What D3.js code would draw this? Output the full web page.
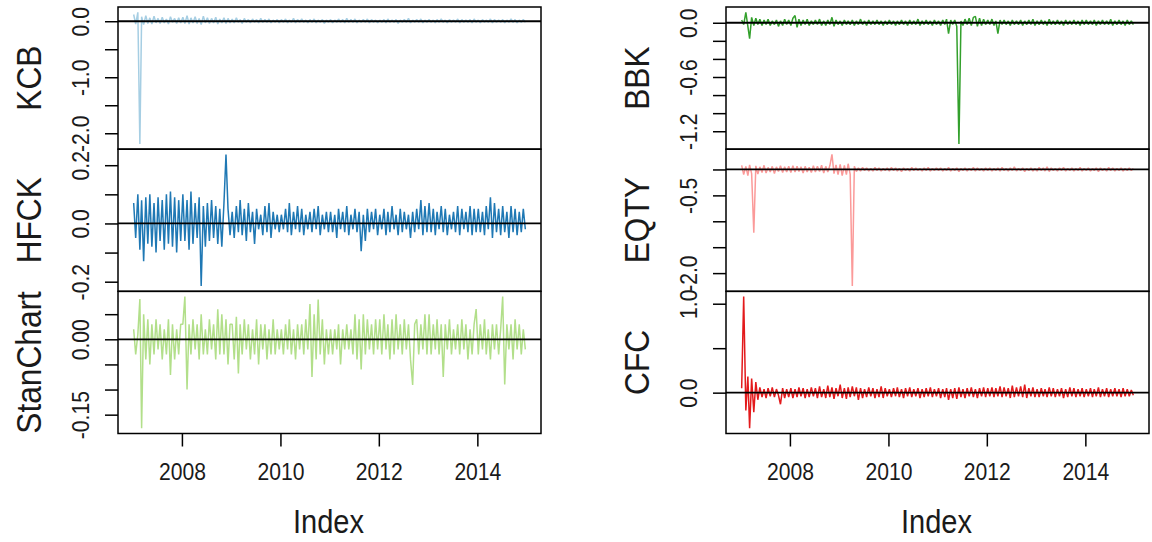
<!DOCTYPE html>
<html>
<head>
<meta charset="utf-8">
<script src="https://cdn.jsdelivr.net/npm/d3@7"></script>
<style>
  body { margin: 0; background: #fff; }
  svg { display: block; }
  text { font-family: "Liberation Sans", Arial, sans-serif; fill: #1a1a1a; }
</style>
</head>
<body>
<svg id="chart" width="1152" height="542"></svg>
<script>
// Half-monthly returns, one row per year (2007 .. 2014).
const kcb = [
  0.12, -0.05, 0.16, -2.19, 0.08, -0.06, 0.1, -0.04, 0.06, -0.05, 0.09, -0.03, 0.05, -0.04, 0.07, -0.03, 0.04, -0.05, 0.08, -0.02, 0.05, -0.04, 0.06, -0.03,
  0.07, -0.04, 0.1, -0.05, 0.06, -0.03, 0.08, -0.04, 0.05, -0.06, 0.09, -0.03, 0.06, -0.04, 0.05, -0.03, 0.07, -0.05, 0.04, -0.03, 0.06, -0.04, 0.05, -0.03,
  0.04, -0.03, 0.06, -0.02, 0.03, -0.04, 0.05, -0.02, 0.03, -0.03, 0.04, -0.02, 0.03, -0.03, 0.05, -0.02, 0.03, -0.02, 0.04, -0.03, 0.02, -0.02, 0.03, -0.03,
  0.03, -0.02, 0.04, -0.03, 0.02, -0.02, 0.05, -0.03, 0.03, -0.02, 0.04, -0.02, 0.02, -0.03, 0.03, -0.02, 0.04, -0.03, 0.02, -0.02, 0.03, -0.04, 0.02, -0.02,
  0.03, -0.03, 0.02, -0.02, 0.04, -0.02, 0.03, -0.03, 0.05, -0.02, 0.03, -0.02, 0.04, -0.03, 0.02, -0.02, 0.03, -0.02, 0.04, -0.03, 0.03, -0.02, 0.02, -0.03,
  0.02, -0.02, 0.03, -0.03, 0.04, -0.02, 0.02, -0.02, 0.03, -0.04, 0.02, -0.02, 0.03, -0.02, 0.05, -0.03, 0.02, -0.02, 0.03, -0.02, 0.04, -0.03, 0.02, -0.02,
  0.03, -0.02, 0.02, -0.03, 0.03, -0.02, 0.04, -0.02, 0.02, -0.03, 0.03, -0.02, 0.02, -0.02, 0.04, -0.03, 0.03, -0.02, 0.02, -0.02, 0.03, -0.03, 0.04, -0.02,
  0.02, -0.03, 0.03, -0.02, 0.02, -0.02, 0.04, -0.03, 0.03, -0.02, 0.02, -0.02, 0.03, -0.03, 0.02, -0.02, 0.04, -0.02, 0.03, -0.03, 0.02, -0.02, 0.03, -0.02
];
const hfck = [
  0.07, -0.05, 0.1, -0.09, 0.08, -0.13, 0.09, -0.07, 0.1, -0.08, 0.07, -0.1, 0.09, -0.06, 0.08, -0.09, 0.1, -0.07, 0.11, -0.08, 0.09, -0.1, 0.08, -0.06,
  0.1, -0.06, 0.08, -0.09, 0.11, -0.07, 0.07, -0.05, 0.09, -0.215, 0.06, -0.08, 0.07, -0.06, 0.08, -0.05, 0.06, -0.07, 0.05, -0.08, 0.07, 0.237, 0.05, -0.04,
  0.04, -0.05, 0.06, -0.03, 0.08, -0.04, 0.05, -0.06, 0.07, -0.03, 0.04, -0.07, 0.05, -0.02, 0.03, -0.04, 0.06, -0.03, 0.07, -0.05, 0.04, -0.02, 0.03, -0.03,
  0.03, -0.02, 0.05, -0.03, 0.07, -0.04, 0.04, -0.02, 0.06, -0.03, 0.05, -0.04, 0.03, -0.02, 0.04, -0.03, 0.05, -0.02, 0.06, -0.04, 0.03, -0.02, 0.04, -0.03,
  0.04, -0.03, 0.03, -0.05, 0.05, -0.02, 0.04, -0.03, 0.06, -0.04, 0.03, -0.02, 0.05, -0.03, 0.04, -0.095, 0.03, -0.06, 0.05, -0.03, 0.04, -0.02, 0.05, -0.04,
  0.03, -0.02, 0.05, -0.04, 0.04, -0.03, 0.06, -0.02, 0.03, -0.04, 0.05, -0.03, 0.04, -0.02, 0.03, -0.05, 0.04, -0.03, 0.05, -0.02, 0.08, -0.04, 0.06, -0.03,
  0.07, -0.03, 0.05, -0.04, 0.04, -0.02, 0.06, -0.03, 0.05, -0.04, 0.03, -0.02, 0.04, -0.03, 0.06, -0.04, 0.05, -0.02, 0.04, -0.03, 0.06, -0.04, 0.05, -0.03,
  0.05, -0.03, 0.04, -0.04, 0.06, -0.02, 0.09, -0.05, 0.07, -0.03, 0.05, -0.04, 0.06, -0.03, 0.04, -0.05, 0.06, -0.03, 0.05, -0.04, 0.04, -0.03, 0.05, -0.02
];
const stanChart = [
  0.02, -0.03, 0.01, 0.08, -0.177, 0.05, -0.04, 0.04, -0.05, 0.03, -0.03, 0.04, -0.02, 0.03, -0.04, 0.02, -0.03, 0.04, -0.071, 0.03, -0.04, 0.02, -0.03, 0.03,
  0.03, 0.085, -0.1, 0.03, -0.03, 0.04, -0.02, 0.03, -0.04, 0.05, -0.03, 0.02, -0.03, 0.04, -0.02, 0.03, -0.04, 0.06, -0.03, 0.05, -0.03, 0.04, -0.05, 0.03,
  0.03, -0.04, 0.045, -0.068, 0.03, -0.03, 0.04, -0.02, 0.03, -0.04, 0.02, -0.03, 0.04, -0.05, 0.03, -0.02, 0.03, -0.04, 0.02, -0.03, 0.04, -0.03, 0.02, -0.02,
  0.02, -0.03, 0.03, -0.02, 0.04, -0.03, 0.02, -0.04, 0.03, -0.02, 0.03, -0.03, 0.04, -0.02, 0.07, -0.075, 0.05, -0.04, 0.079, -0.03, 0.04, -0.05, 0.02, -0.03,
  0.02, -0.03, 0.02, -0.02, 0.03, -0.05, 0.02, -0.02, 0.03, -0.02, 0.02, -0.03, 0.05, -0.04, 0.04, -0.06, 0.05, -0.03, 0.04, -0.02, 0.03, -0.03, 0.04, -0.02,
  0.04, -0.03, 0.05, -0.02, 0.03, -0.04, 0.04, -0.03, 0.05, -0.02, 0.03, -0.03, 0.04, -0.02, 0.03, -0.04, -0.091, 0.03, 0.04, -0.03, 0.03, -0.02, 0.05, -0.03,
  0.05, -0.03, 0.03, -0.02, 0.04, -0.03, 0.03, -0.075, 0.03, -0.02, 0.04, -0.03, 0.02, -0.02, 0.03, -0.03, 0.04, -0.02, 0.03, -0.04, 0.02, -0.03, 0.03, 0.06,
  -0.03, 0.03, -0.02, 0.04, -0.03, 0.02, -0.04, 0.03, -0.02, 0.03, -0.03, 0.02, 0.085, -0.09, 0.03, -0.02, 0.03, -0.04, 0.04, -0.02, 0.03, -0.03, 0.02, -0.02
];
const bbk = [
  0.03, -0.02, 0.116, -0.04, -0.175, 0.06, -0.03, 0.05, -0.02, 0.04, -0.03, 0.03, -0.02, 0.04, -0.03, 0.02, -0.02, 0.03, -0.04, 0.02, -0.03, 0.04, -0.02, 0.03,
  -0.03, 0.05, 0.08, -0.05, 0.04, -0.03, 0.03, -0.02, 0.04, -0.03, 0.02, -0.02, 0.03, -0.02, 0.04, -0.03, 0.02, -0.03, 0.03, -0.02, 0.06, -0.04, 0.03, -0.02,
  0.02, -0.03, 0.03, -0.02, 0.02, -0.02, 0.03, -0.03, 0.02, -0.02, 0.04, -0.02, 0.02, -0.03, 0.03, -0.02, 0.02, -0.02, 0.03, -0.02, 0.02, -0.03, 0.02, -0.02,
  0.03, -0.02, 0.02, -0.03, 0.02, -0.02, 0.03, -0.02, 0.02, -0.03, 0.03, -0.02, 0.02, -0.02, 0.04, -0.03, 0.02, -0.02, 0.03, -0.02, 0.02, -0.03, 0.03, -0.02,
  0.02, -0.03, 0.03, -0.02, 0.04, -0.12, 0.03, -0.02, 0.03, -0.04, -1.34, 0.02, -0.03, 0.04, -0.02, 0.05, -0.03, 0.06, 0.07, -0.04, 0.05, -0.03, 0.04, -0.02,
  0.03, -0.02, 0.04, -0.03, 0.02, -0.12, 0.03, -0.02, 0.03, -0.02, 0.02, -0.03, 0.03, -0.02, 0.02, -0.02, 0.03, -0.03, 0.02, -0.02, 0.03, -0.02, 0.04, -0.03,
  0.02, -0.02, 0.03, -0.02, 0.02, -0.03, 0.04, -0.02, 0.02, -0.02, 0.03, -0.02, 0.02, -0.03, 0.03, -0.02, 0.02, -0.02, 0.03, -0.02, 0.02, -0.03, 0.03, -0.02,
  0.03, -0.02, 0.02, -0.02, 0.03, -0.03, 0.02, -0.02, 0.03, -0.02, 0.02, -0.02, 0.04, -0.03, 0.02, -0.02, 0.03, -0.02, 0.02, -0.03, 0.03, -0.02, 0.02, -0.02
];
const eqty = [
  0.08, -0.1, 0.06, -0.12, 0.09, -0.08, -1.22, 0.07, -0.09, 0.05, -0.06, 0.08, -0.07, 0.04, -0.05, 0.06, -0.08, 0.05, -0.04, 0.07, -0.06, 0.05, -0.05, 0.06,
  -0.06, 0.07, -0.05, 0.06, -0.04, 0.05, -0.07, 0.06, -0.05, 0.04, -0.06, 0.07, -0.05, 0.06, -0.04, 0.08, -0.07, 0.06, -0.05, 0.07, 0.29, -0.08, 0.09, -0.1,
  0.1, -0.12, 0.08, -0.1, 0.11, -0.09, -2.25, 0.06, -0.04, 0.03, -0.03, 0.04, -0.02, 0.03, -0.03, 0.02, -0.03, 0.04, -0.02, 0.03, -0.03, 0.02, -0.02, 0.03,
  -0.03, 0.04, -0.02, 0.03, -0.03, 0.02, -0.04, 0.03, -0.02, 0.02, -0.03, 0.04, -0.02, 0.03, -0.02, 0.02, -0.03, 0.03, -0.02, 0.04, -0.03, 0.02, -0.02, 0.03,
  -0.02, 0.03, -0.03, 0.02, -0.02, 0.04, -0.03, 0.02, -0.02, 0.03, -0.04, 0.02, -0.02, 0.03, -0.03, 0.02, -0.02, 0.04, -0.03, 0.03, -0.02, 0.02, -0.03, 0.03,
  -0.02, 0.03, -0.03, 0.02, -0.02, 0.03, -0.03, 0.04, -0.02, 0.02, -0.03, 0.03, -0.02, 0.05, -0.03, 0.02, -0.02, 0.03, -0.04, 0.02, -0.02, 0.03, -0.03, 0.02,
  -0.03, 0.04, -0.02, 0.03, -0.03, 0.05, -0.04, 0.03, -0.02, 0.02, -0.03, 0.03, -0.02, 0.04, -0.03, 0.02, -0.02, 0.03, -0.03, 0.02, -0.02, 0.04, -0.03, 0.02,
  -0.02, 0.03, -0.03, 0.02, -0.02, 0.03, -0.04, 0.03, -0.02, 0.02, -0.03, 0.04, -0.02, 0.03, -0.03, 0.02, -0.02, 0.03, -0.03, 0.02, -0.02, 0.03, -0.02, 0.02
];
const cfc = [
  0.05, 1.08, -0.2, 0.18, -0.4, 0.16, -0.22, 0.12, -0.08, 0.06, -0.05, 0.04, -0.06, 0.05, -0.04, 0.06, -0.05, 0.04, -0.03, -0.13, 0.05, -0.06, 0.04, -0.05,
  0.05, -0.06, 0.04, -0.05, 0.06, -0.04, 0.05, -0.06, 0.04, -0.05, 0.06, -0.04, 0.05, -0.06, 0.07, -0.05, 0.04, -0.06, 0.08, -0.05, 0.06, -0.07, 0.05, -0.04,
  0.09, -0.06, 0.05, -0.07, 0.06, -0.05, 0.07, -0.04, 0.06, -0.08, 0.05, -0.06, 0.04, -0.05, 0.06, -0.04, 0.05, -0.06, 0.04, -0.05, 0.07, -0.06, 0.05, -0.04,
  0.04, -0.05, 0.05, -0.04, 0.06, -0.05, 0.04, -0.06, 0.05, -0.04, 0.06, -0.05, 0.04, -0.04, 0.05, -0.06, 0.04, -0.05, 0.05, -0.04, 0.06, -0.05, 0.04, -0.04,
  0.05, -0.06, 0.04, -0.05, 0.05, -0.08, 0.04, -0.06, 0.05, -0.07, 0.06, -0.05, 0.04, -0.06, 0.05, -0.04, 0.06, -0.05, 0.04, -0.06, 0.05, -0.04, 0.06, -0.05,
  0.05, -0.04, 0.06, -0.05, 0.05, -0.04, 0.07, -0.05, 0.06, -0.04, 0.05, -0.06, 0.08, -0.05, 0.06, -0.04, 0.07, -0.05, 0.09, -0.06, 0.05, -0.04, 0.06, -0.05,
  0.04, -0.05, 0.05, -0.04, 0.04, -0.05, 0.06, -0.04, 0.05, -0.05, 0.04, -0.04, 0.05, -0.06, 0.04, -0.05, 0.06, -0.04, 0.05, -0.05, 0.04, -0.04, 0.05, -0.05,
  0.04, -0.04, 0.05, -0.05, 0.04, -0.04, 0.06, -0.05, 0.04, -0.04, 0.05, -0.05, 0.04, -0.04, 0.05, -0.04, 0.04, -0.05, 0.05, -0.04, 0.04, -0.04, 0.03, -0.03
];

// Axis ticks and which ones carry a label.
const kcbTicks = [0, -0.5, -1, -1.5, -2];        const kcbLabels = ["0.0", "-1.0", "-2.0"];
const hfckTicks = [0.2, 0.1, 0, -0.1, -0.2];     const hfckLabels = ["0.2", "0.0", "-0.2"];
const stanTicks = [0.05, 0, -0.05, -0.1, -0.15]; const stanLabels = ["0.00", "-0.15"];
const bbkTicks = [0, -0.2, -0.4, -0.6, -0.8, -1, -1.2]; const bbkLabels = ["0.0", "-0.6", "-1.2"];
const eqtyTicks = [0, -0.5, -1, -1.5, -2];       const eqtyLabels = ["-0.5", "-2.0"];
const cfcTicks = [1, 0.5, 0];                    const cfcLabels = ["1.0", "0.0"];
const yearTicks = [2008, 2010, 2012, 2014];

// Two samples per month, starting Jan 2007.
const dates = kcb.map((v, i) => new Date(2007, Math.floor(i / 2), i % 2 ? 23 : 8));

const svg = d3.select("#chart");
const colLeft = [118, 726];
const colW = 423;
const plotTop = 7, plotBottom = 433.5;
const panelH = (plotBottom - plotTop) / 3;
const tickLen = 13;
const squeeze = "scale(0.88,1)";  // narrow-ish font of the original

const pal = d3.schemePaired;
const panels = [
  { name: "KCB", values: kcb, col: 0, row: 0, color: pal[0], ticks: kcbTicks, labels: kcbLabels },
  { name: "HFCK", values: hfck, col: 0, row: 1, color: pal[1], ticks: hfckTicks, labels: hfckLabels },
  { name: "StanChart", values: stanChart, col: 0, row: 2, color: pal[2], ticks: stanTicks, labels: stanLabels },
  { name: "BBK", values: bbk, col: 1, row: 0, color: pal[3], ticks: bbkTicks, labels: bbkLabels },
  { name: "EQTY", values: eqty, col: 1, row: 1, color: pal[4], ticks: eqtyTicks, labels: eqtyLabels },
  { name: "CFC", values: cfc, col: 1, row: 2, color: pal[5], ticks: cfcTicks, labels: cfcLabels }
];

// R style 4% padding on each side.
function padded(ext) {
  const p = (ext[1] - ext[0]) * 0.04;
  return [ext[0] - p, ext[1] + p];
}

const tExt = d3.extent(dates, d => +d);
const xDom = padded(tExt).map(t => new Date(t));

panels.forEach(function(p) {
  const left = colLeft[p.col];
  const y0 = plotTop + p.row * panelH;
  const x = d3.scaleTime().domain(xDom).range([left, left + colW]);
  const y = d3.scaleLinear().domain(padded(d3.extent(p.values))).range([y0 + panelH, y0]);
  const g = svg.append("g");

  const pts = p.values.map((v, i) => ({ date: dates[i], v: v }));
  g.append("path")
    .datum(pts)
    .attr("fill", "none")
    .attr("stroke", p.color)
    .attr("stroke-width", 1.5)
    .attr("stroke-linejoin", "bevel")
    .attr("d", d3.line().x(d => x(d.date)).y(d => y(d.v)));

  // zero line
  g.append("line")
    .attr("x1", left).attr("x2", left + colW)
    .attr("y1", y(0)).attr("y2", y(0))
    .attr("stroke", "#000").attr("stroke-width", 1.8);

  g.append("rect")
    .attr("x", left).attr("y", y0)
    .attr("width", colW).attr("height", panelH)
    .attr("fill", "none").attr("stroke", "#000").attr("stroke-width", 1.5);

  const decimals = p.labels[0].split(".")[1].length;
  const fmt = d3.format("." + decimals + "f");
  const yAxis = d3.axisLeft(y)
    .tickValues(p.ticks)
    .tickSize(tickLen)
    .tickFormat(d => { const s = fmt(d).replace("\u2212", "-"); return p.labels.indexOf(s) >= 0 ? s : ""; });
  const ax = g.append("g").attr("transform", "translate(" + left + ",0)").call(yAxis);
  ax.select(".domain").remove();
  ax.selectAll("line").attr("stroke", "#000").attr("stroke-width", 1.5);
  ax.selectAll("text")
    .attr("x", 0).attr("dy", 0)
    .attr("text-anchor", "middle")
    .attr("font-size", 24)
    .attr("font-family", "Liberation Sans, Arial, sans-serif")
    .attr("fill", "#1a1a1a")
    .attr("transform", "translate(-29,0) rotate(-90) " + squeeze);

  g.append("text")
    .attr("transform", "translate(" + (left - 77) + "," + (y0 + panelH / 2) + ") rotate(-90) " + squeeze)
    .attr("text-anchor", "middle")
    .attr("font-size", 36)
    .text(p.name);

  if (p.row == 2) {
    const xAxis = d3.axisBottom(x)
      .tickValues(yearTicks.map(yr => new Date(yr, 0, 1)))
      .tickSize(tickLen)
      .tickFormat(d3.timeFormat("%Y"));
    const bx = g.append("g").attr("transform", "translate(0," + plotBottom + ")").call(xAxis);
    bx.select(".domain").remove();
    bx.selectAll("line").attr("stroke", "#000").attr("stroke-width", 1.5);
    bx.selectAll("text")
      .attr("y", 46.5).attr("dy", 0)
      .attr("font-size", 24)
      .attr("font-family", "Liberation Sans, Arial, sans-serif")
      .attr("fill", "#1a1a1a")
      .attr("transform", squeeze);

    svg.append("text")
      .attr("transform", "translate(" + (left + colW / 2 - 1) + ",533) " + squeeze)
      .attr("text-anchor", "middle")
      .attr("font-size", 33)
      .text("Index");
  }
});
</script>
</body>
</html>
